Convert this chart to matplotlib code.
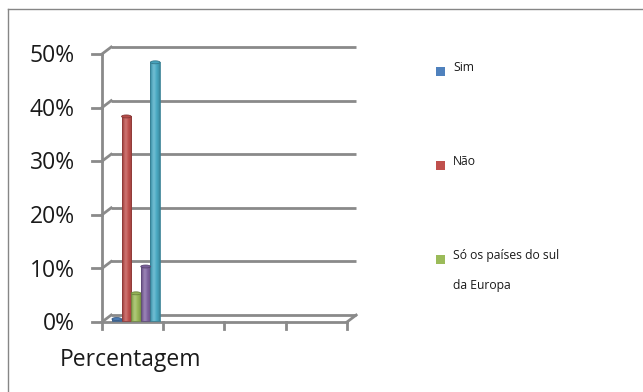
import textwrap
import numpy as np
import matplotlib
matplotlib.use("Agg")
import matplotlib.pyplot as plt
from matplotlib.patches import Ellipse, Rectangle
from matplotlib.lines import Line2D
from matplotlib.colors import to_rgb

plt.rcParams['font.family'] = ['Open Sans', 'DejaVu Sans']

# Data
categories = ["Percentagem"]
series_names = ["Sim", "Não", "Só os países do sul da Europa", "Talvez", "Não sei"]
values = [0.4, 38.2, 5.2, 10.2, 48.3]
colors = ["#4F81BD", "#C0504D", "#9BBB59", "#8064A2", "#4BACC6"]
legend_count = 3
y_ticks = [0, 10, 20, 30, 40, 50]
y_tick_labels = ["0%", "10%", "20%", "30%", "40%", "50%"]
n_slots = 4

W, H = 643, 392
fig = plt.figure(figsize=(W / 100, H / 100), dpi=100)
fig.patch.set_facecolor("white")

# outer chart border (top and left edges)
border = "#868686"
fig.add_artist(Line2D([8 / W, 1.0], [1 - 9 / H, 1 - 9 / H], color=border, lw=1.0))
fig.add_artist(Line2D([8 / W, 8 / W], [1 - 9 / H, 0.0], color=border, lw=1.0))

ax = fig.add_axes([102 / W, 1 - 322 / H, (347 - 102) / W, (322 - 54) / H])
ax.axis("off")

dx, dy = 0.15, 1.3          # depth offset of the back wall
grid_c = "#8a8a8a"
lw = 2.0

# back wall gridlines + left side wall
for t in y_ticks:
    ax.plot([dx, n_slots + dx], [t + dy, t + dy], color=grid_c, lw=lw,
            solid_capstyle="butt", clip_on=False, zorder=1)
    ax.plot([0, dx], [t, t + dy], color=grid_c, lw=lw, clip_on=False, zorder=1)
    ax.plot([-0.16, 0], [t, t], color=grid_c, lw=lw, clip_on=False, zorder=1)

# front vertical axis, floor edges
ax.plot([0, 0], [0, y_ticks[-1]], color=grid_c, lw=lw, clip_on=False, zorder=1)
ax.plot([0, n_slots], [0, 0], color=grid_c, lw=lw, clip_on=False, zorder=1)
ax.plot([n_slots, n_slots + dx], [0, dy], color=grid_c, lw=lw, clip_on=False, zorder=1)
for k in range(n_slots + 1):
    ax.plot([k, k], [0, -1.3], color=grid_c, lw=lw, clip_on=False, zorder=1)

# y tick labels
for t, lab in zip(y_ticks, y_tick_labels):
    ax.text(-27 / 61.25, t - 0.4, lab, ha="right", va="center", fontsize=16.5,
            color="#1a1a1a", clip_on=False)

# category labels
for ci, cat in enumerate(categories):
    ax.text(ci + 0.47, -7.1, cat, ha="center", va="center", fontsize=16.5,
            color="#1a1a1a", clip_on=False)

# cylinder-like bars
n = len(values)
bw = 0.157
start = (1 - n * bw) / 2 + dx / 2 - 0.02
u = np.linspace(0, 1, 64)
for i, (v, c) in enumerate(zip(values, colors)):
    base = np.array(to_rgb(c))
    x0 = start + i * bw
    bar = ax.bar(x0, v, width=bw, bottom=0.15, align="edge", facecolor="none",
                 edgecolor=tuple(base * 0.75), linewidth=0.6, zorder=4)[0]
    shade = np.sin(np.pi * u) ** 0.6
    img = np.zeros((1, len(u), 3))
    for j, s in enumerate(shade):
        dark = base * (0.72 + 0.28 * s)
        light = dark + (1 - dark) * 0.22 * max(0.0, 1 - abs(u[j] - 0.38) / 0.3)
        img[0, j] = np.clip(light, 0, 1)
    im = ax.imshow(img, extent=[x0, x0 + bw, 0.15, 0.15 + v], aspect="auto",
                   interpolation="bilinear", zorder=3)
    im.set_clip_path(bar)
    cap = Ellipse((x0 + bw / 2, 0.15 + v), bw, 0.55, facecolor=tuple(base * 0.95),
                  edgecolor=tuple(base * 0.7), linewidth=0.6, zorder=5, clip_on=False)
    ax.add_patch(cap)

ax.set_xlim(0, n_slots)
ax.set_ylim(0, y_ticks[-1])

# legend (first entries)
leg_y = [71, 165, 259]
for name, c, yy in zip(series_names[:legend_count], colors[:legend_count], leg_y):
    fig.add_artist(Rectangle((436 / W, 1 - (yy + 4.5) / H), 9 / W, 9 / H,
                             facecolor=c, edgecolor="none"))
    fig.text(453 / W, 1 - (yy - 10) / H, textwrap.fill(name, 20), ha="left", va="top",
             fontsize=8.7, color="#1a1a1a", linespacing=2.75)

fig.savefig("out.png", dpi=100)
